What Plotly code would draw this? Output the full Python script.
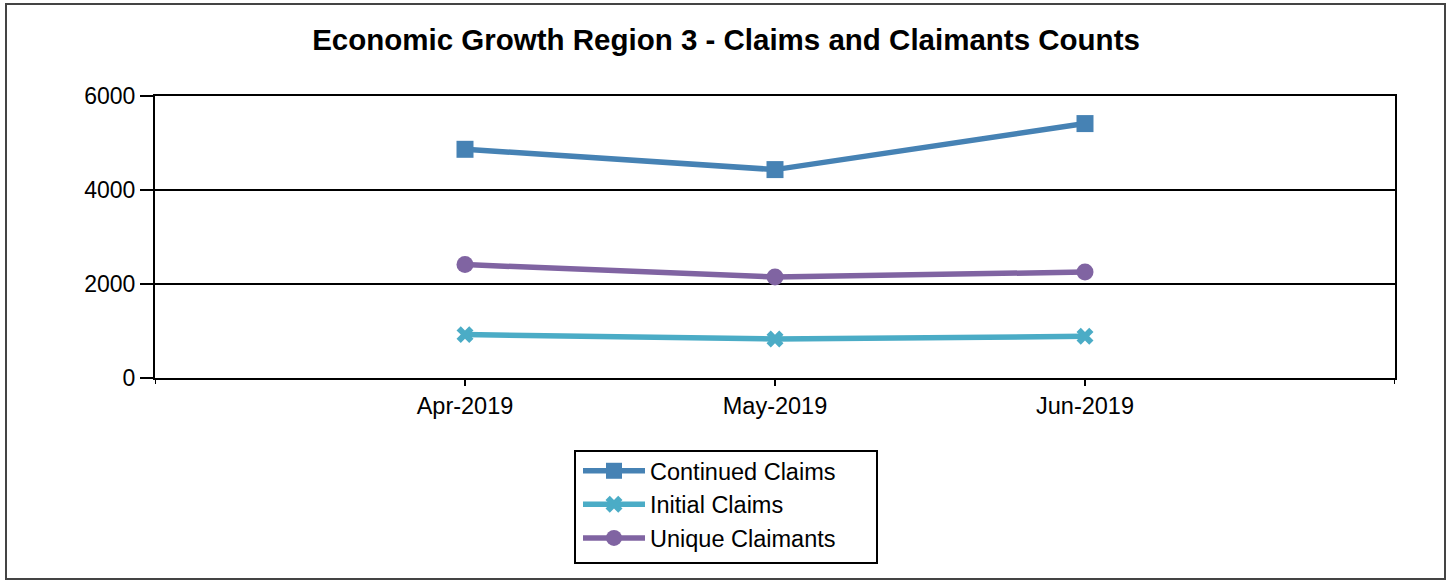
import plotly.graph_objects as go

months = ["Apr-2019", "May-2019", "Jun-2019"]
continued_claims = [4866, 4434, 5413]
initial_claims = [923, 830, 887]
unique_claimants = [2413, 2149, 2255]
y_ticks = [0, 2000, 4000, 6000]

x_pos = list(range(1, len(months) + 1))

W, H = 1447, 580
L, R, T, B = 155, 52, 96, 202
pw, ph = W - L - R, H - T - B

def px(x):
    return (x - L) / pw

def py(y):
    return (H - B - y) / ph

fig = go.Figure()
series = [
    ("Continued Claims", continued_claims, "#4682B4", "square", 17),
    ("Initial Claims", initial_claims, "#4BACC6", "x", 15),
    ("Unique Claimants", unique_claimants, "#8064A2", "circle", 17),
]
for name, vals, col, sym, sz in series:
    fig.add_trace(go.Scatter(
        x=x_pos, y=vals, name=name, mode="lines+markers",
        line=dict(color=col, width=5.5),
        marker=dict(symbol=sym, size=sz, color=col, line=dict(width=0)),
    ))

fig.update_layout(
    width=W, height=H,
    margin=dict(l=L, r=R, t=T, b=B),
    paper_bgcolor="white", plot_bgcolor="white",
    font=dict(family="Arial, Liberation Sans, sans-serif", size=20, color="black"),
    title=dict(text="<b>Economic Growth Region 3 - Claims and Claimants Counts</b>",
               xref="container", x=726 / W, xanchor="center",
               y=1 - 40 / H, yanchor="middle",
               font=dict(size=29.5, color="black")),
    showlegend=True,
    legend=dict(x=px(578), y=py(449), xanchor="left", yanchor="top",
                borderwidth=0, bgcolor="rgba(0,0,0,0)",
                font=dict(size=23.5), tracegroupgap=0, itemwidth=62),
    xaxis=dict(range=[0, len(months) + 1], tickvals=x_pos, ticktext=months,
               tickfont=dict(size=23.5),
               showgrid=False, zeroline=False, showline=True, linecolor="black",
               linewidth=2, mirror=True, ticks="outside", ticklen=6, tickwidth=2,
               tickcolor="black", fixedrange=True),
    yaxis=dict(range=[0, 6000], tickvals=y_ticks, showgrid=True, gridcolor="black",
               tickfont=dict(size=23),
               gridwidth=2, zeroline=False, showline=True, linecolor="black",
               linewidth=2, mirror=True, ticks="outside", ticklen=13, tickwidth=2,
               tickcolor="black", fixedrange=True),
)

# outer chart border
fig.add_shape(type="rect", xref="paper", yref="paper",
              x0=px(6), x1=px(1445), y0=py(579), y1=py(4),
              line=dict(color="#444444", width=2), layer="below")
# legend frame
fig.add_shape(type="rect", xref="paper", yref="paper",
              x0=px(575), x1=px(877), y0=py(563), y1=py(451),
              line=dict(color="black", width=2), layer="below")
# small tick marks extending below the x-axis at plot ends
for xv in [0, len(months) + 1]:
    fig.add_shape(type="line", xref="x", yref="paper", x0=xv, x1=xv,
                  y0=0, y1=py(384), line=dict(color="black", width=2))

fig.write_html("out.html", config={"displayModeBar": False},
               post_script="document.body.style.margin='0';document.body.style.overflow='hidden';")
